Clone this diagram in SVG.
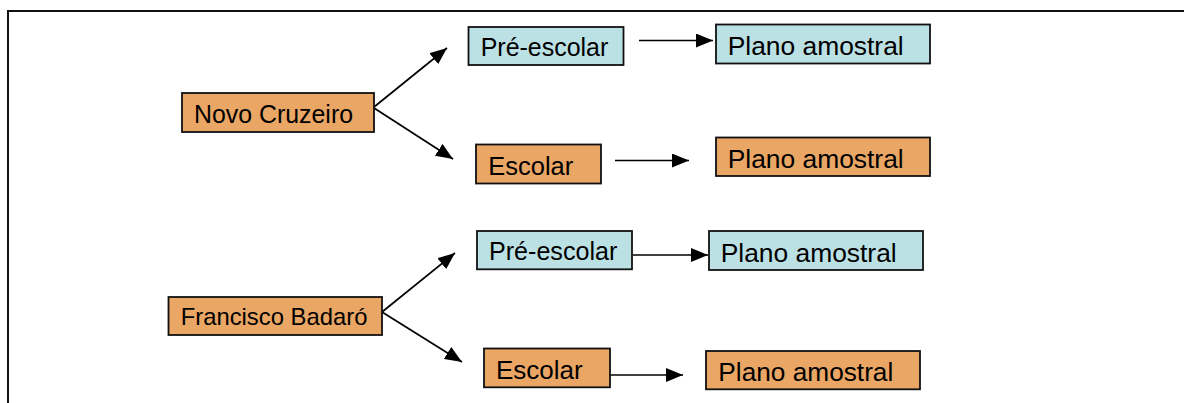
<svg xmlns="http://www.w3.org/2000/svg" width="1184" height="403" viewBox="0 0 1184 403">
<style>
  .box { stroke: #111; stroke-width: 1.8; }
  .orange { fill: #EAA664; }
  .blue { fill: #BCE1E4; }
  .lbl { font-family: "Liberation Sans", Arial, sans-serif; font-size: 25px; fill: #000; }
  .conn { stroke: #000; stroke-width: 1.7; fill: none; marker-end: url(#arrow); }
</style>
<defs>
  <marker id="arrow" markerUnits="userSpaceOnUse" markerWidth="18" markerHeight="14" refX="17" refY="7" orient="auto">
    <path d="M0,0 L17,7 L0,14 z" fill="#000"/>
  </marker>
</defs>
<rect width="1184" height="403" fill="#fff"/>
<path d="M8,403 L8,11 L1184,11" fill="none" stroke="#111" stroke-width="2"/>

<g id="connectors">
  <line class="conn" x1="374" y1="107" x2="447" y2="48"/>
  <line class="conn" x1="374" y1="108" x2="453" y2="159"/>
  <line class="conn" x1="639" y1="40.5" x2="713" y2="40.5"/>
  <line class="conn" x1="615" y1="160.5" x2="689" y2="160.5"/>
  <line class="conn" x1="382" y1="312" x2="455" y2="253"/>
  <line class="conn" x1="382" y1="312" x2="462" y2="362"/>
  <line class="conn" x1="633" y1="255" x2="708" y2="255"/>
  <line class="conn" x1="610" y1="375" x2="683" y2="375"/>
</g>

<g id="novo-cruzeiro">
  <rect class="box orange" x="182" y="93" width="192" height="39"/>
  <text class="lbl" x="194" y="123" textLength="159" lengthAdjust="spacingAndGlyphs">Novo Cruzeiro</text>
</g>
<g id="nc-pre-escolar">
  <rect class="box blue" x="468.5" y="27" width="155" height="38"/>
  <text class="lbl" x="480.7" y="56" textLength="127.6" lengthAdjust="spacingAndGlyphs">Pré-escolar</text>
</g>
<g id="nc-escolar">
  <rect class="box orange" x="476" y="144.5" width="125" height="39"/>
  <text class="lbl" x="488.3" y="174.5" textLength="85" lengthAdjust="spacingAndGlyphs">Escolar</text>
</g>
<g id="nc-plano-1">
  <rect class="box blue" x="716" y="24.5" width="214" height="39"/>
  <text class="lbl" x="727.7" y="54.5" textLength="176" lengthAdjust="spacingAndGlyphs">Plano amostral</text>
</g>
<g id="nc-plano-2">
  <rect class="box orange" x="716" y="137.5" width="214" height="38.5"/>
  <text class="lbl" x="727.7" y="168" textLength="176" lengthAdjust="spacingAndGlyphs">Plano amostral</text>
</g>

<g id="francisco-badaro">
  <rect class="box orange" x="168.5" y="297" width="213.5" height="38"/>
  <text class="lbl" x="180.7" y="325" textLength="186.7" lengthAdjust="spacingAndGlyphs" style="font-size:24px">Francisco Badaró</text>
</g>
<g id="fb-pre-escolar">
  <rect class="box blue" x="477" y="231" width="155" height="38.3"/>
  <text class="lbl" x="489" y="260" textLength="128.3" lengthAdjust="spacingAndGlyphs">Pré-escolar</text>
</g>
<g id="fb-escolar">
  <rect class="box orange" x="484" y="348.5" width="126" height="38.8"/>
  <text class="lbl" x="496" y="378.5" textLength="86.7" lengthAdjust="spacingAndGlyphs">Escolar</text>
</g>
<g id="fb-plano-1">
  <rect class="box blue" x="709" y="231" width="214" height="39"/>
  <text class="lbl" x="720.7" y="262" textLength="176" lengthAdjust="spacingAndGlyphs">Plano amostral</text>
</g>
<g id="fb-plano-2">
  <rect class="box orange" x="706" y="351" width="214" height="38.3"/>
  <text class="lbl" x="718.3" y="381" textLength="175" lengthAdjust="spacingAndGlyphs">Plano amostral</text>
</g>
</svg>
